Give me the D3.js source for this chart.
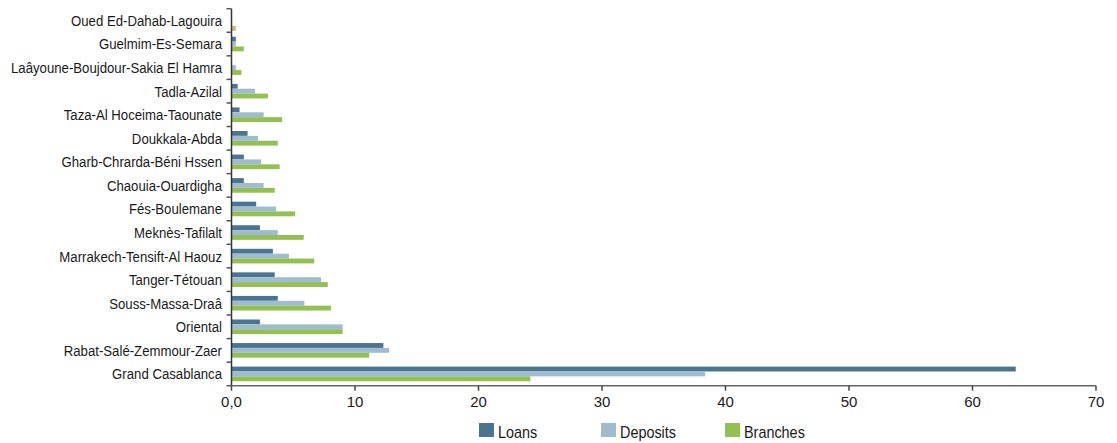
<!DOCTYPE html>
<html><head><meta charset="utf-8">
<script src="https://cdn.jsdelivr.net/npm/d3@7"></script>
<style>
body{margin:0;background:#fff;}
text{font-family:"Liberation Sans",Arial,sans-serif;fill:#1a1a1a;}
</style></head>
<body><svg id="c" width="1117" height="443"></svg>
<script>
const regions = ["Oued Ed-Dahab-Lagouira","Guelmim-Es-Semara","Laâyoune-Boujdour-Sakia El Hamra","Tadla-Azilal","Taza-Al Hoceima-Taounate","Doukkala-Abda","Gharb-Chrarda-Béni Hssen","Chaouia-Ouardigha","Fés-Boulemane","Meknès-Tafilalt","Marrakech-Tensift-Al Haouz","Tanger-Tétouan","Souss-Massa-Draâ","Oriental","Rabat-Salé-Zemmour-Zaer","Grand Casablanca"];
const loans    = [0,   0.35,0,   0.5, 0.65,1.3, 1.0, 1.0, 2.0, 2.3, 3.35,3.5, 3.75,2.3, 12.3,63.5];
const deposits = [0,   0.35,0.35,1.9, 2.6, 2.15,2.4, 2.6, 3.6, 3.75,4.65,7.25,5.9, 9.0, 12.75,38.35];
const branches = [0.35,1.0, 0.8, 2.95,4.1, 3.75,3.9, 3.5, 5.15,5.85,6.7, 7.8, 8.05,9.0, 11.15,24.2];
const seriesNames = ["Loans","Deposits","Branches"];
const seriesColors = ["#497593","#9ebbd0","#93c052"];
const highlightColor = "#cbbb7e"; // odd-coloured point (Oued Ed-Dahab branches)
const xTicks = [0,10,20,30,40,50,60,70];
const xTickLabels = ["0,0","10","20","30","40","50","60","70"];

(function(){
const svg = d3.select("#c");
const L = 231.5, R = 1096, T = 8.7, B = 385.7;
const x = d3.scaleLinear().domain([0,70]).range([L,R]);
const y = d3.scaleBand().domain(regions).range([T,B]).paddingInner(0.38).paddingOuter(0.19);
const ys = d3.scaleBand().domain(seriesNames).range([0,y.bandwidth()]);
const data = [loans,deposits,branches];

const g = svg.append("g");
regions.forEach((r,i)=>{
  data.forEach((arr,s)=>{
    const v = arr[i];
    if (v<=0) return;
    const hl = (i===0 && s===2);
    g.append("rect")
      .attr("x", x(0)).attr("y", y(r)+ys(seriesNames[s]) + (hl?3:0))
      .attr("width", x(v)-x(0)).attr("height", ys.bandwidth())
      .attr("fill", hl?highlightColor:seriesColors[s]);
  });
});

const step = (B-T)/regions.length;
svg.append("line").attr("x1",L).attr("x2",L).attr("y1",T).attr("y2",B).attr("stroke","#333").attr("stroke-width",1.5);
d3.range(regions.length+1).forEach(k=>{
  const yy = T + k*step;
  svg.append("line").attr("x1",L-5).attr("x2",L).attr("y1",yy).attr("y2",yy).attr("stroke","#555").attr("stroke-width",1.5);
});
svg.selectAll("text.yl").data(regions).enter().append("text")
  .attr("class","yl")
  .attr("transform",d=>`translate(222,${y(d)+y.bandwidth()/2}) scale(0.88,1)`)
  .attr("dy","0.36em")
  .attr("text-anchor","end").attr("font-size","15px").text(d=>d);

svg.append("line").attr("x1",L).attr("x2",R).attr("y1",B).attr("y2",B).attr("stroke","#666").attr("stroke-width",1.5);
xTicks.forEach((t,i)=>{
  svg.append("line").attr("x1",x(t)).attr("x2",x(t)).attr("y1",B).attr("y2",B+5).attr("stroke","#444").attr("stroke-width",1.5);
  svg.append("text").attr("x",x(t)).attr("y",407).attr("text-anchor","middle").attr("font-size","15px").text(xTickLabels[i]);
});

const legX = [479,601,725];
seriesNames.forEach((n,i)=>{
  svg.append("rect").attr("x",legX[i]).attr("y",423).attr("width",15).attr("height",14).attr("fill",seriesColors[i]);
  svg.append("text").attr("transform",`translate(${legX[i]+19},437.5) scale(0.9,1)`).attr("font-size","16px").text(n);
});
})();
</script></body></html>
